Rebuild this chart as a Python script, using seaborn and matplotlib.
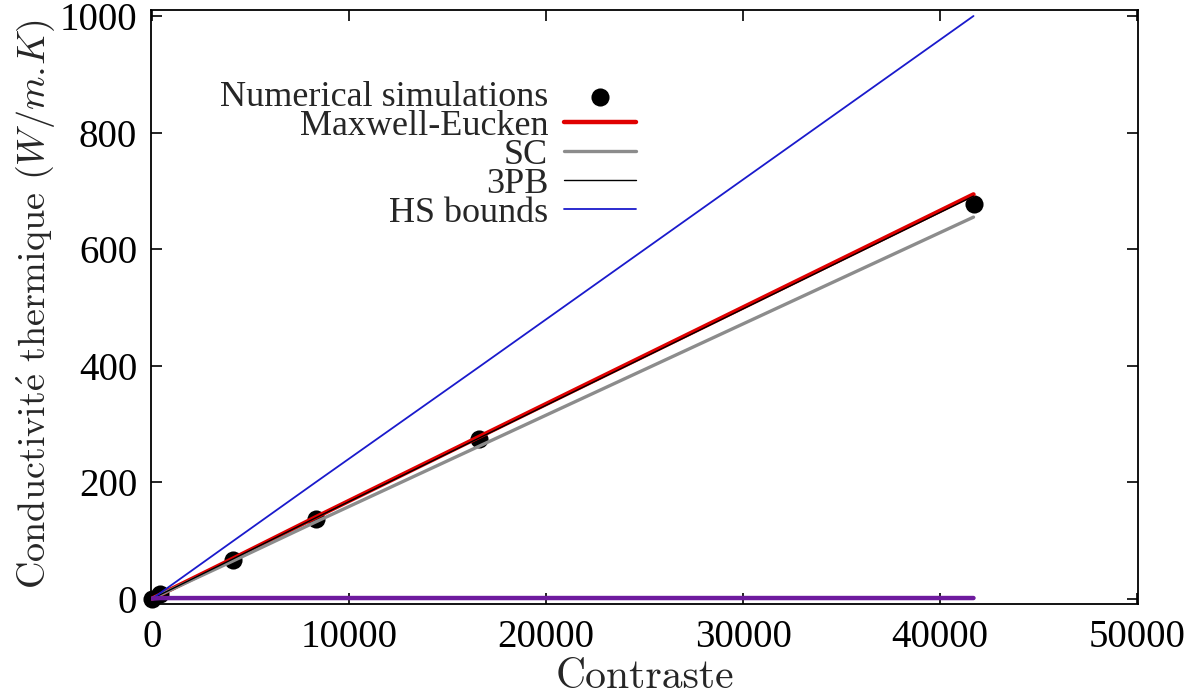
import numpy as np
import pandas as pd
import matplotlib
matplotlib.use("Agg")
import matplotlib.pyplot as plt
import seaborn as sns

# Contrast values (ratio of phase conductivities)
contrast = [1, 400, 4100, 8300, 16600, 41700]

# Effective thermal conductivity (W/m.K)
simulations = [0.5, 8, 67, 138, 274, 677]
maxwell_eucken = [0.6, 7.2, 69, 140, 278, 694]
sc_model = [0.6, 6.9, 65, 132, 262, 655]
three_pb = [0.6, 7.1, 68.5, 139, 276, 691]
hs_upper = [0.6, 9.7, 99, 200, 398, 1000]
hs_lower = [0.6, 1.5, 1.6, 1.6, 1.6, 1.6]

x_ticks = [0, 10000, 20000, 30000, 40000, 50000]
y_ticks = [0, 200, 400, 600, 800, 1000]

sns.set_style("ticks")
plt.rcParams["mathtext.fontset"] = "cm"
plt.rcParams["font.family"] = ["Liberation Serif", "DejaVu Serif"]

df = pd.DataFrame({
    "contrast": contrast,
    "sim": simulations,
    "me": maxwell_eucken,
    "sc": sc_model,
    "pb": three_pb,
    "hs_up": hs_upper,
    "hs_low": hs_lower,
})

fig = plt.figure(figsize=(11.93, 6.98), dpi=100)
ax = fig.add_axes([0.1266, 0.1347, 0.8273, 0.851])

sns.scatterplot(data=df, x="contrast", y="sim", ax=ax, color="black", s=170,
                edgecolor="black", linewidth=0, label="Numerical simulations",
                zorder=3, clip_on=False)
sns.lineplot(data=df, x="contrast", y="me", ax=ax, color="#e00000", linewidth=3.2,
             label="Maxwell-Eucken", zorder=4)
sns.lineplot(data=df, x="contrast", y="sc", ax=ax, color="#8c8c8c", linewidth=2.4,
             label="SC", zorder=4)
sns.lineplot(data=df, x="contrast", y="pb", ax=ax, color="black", linewidth=1.0,
             label="3PB", zorder=5)
sns.lineplot(data=df, x="contrast", y="hs_up", ax=ax, color="#1a1acc", linewidth=1.3,
             label="HS bounds", zorder=5)
sns.lineplot(data=df, x="contrast", y="hs_low", ax=ax, color="#6e1a9e", linewidth=3.2,
             zorder=5)

ax.set_xlim(-50, 50050)
ax.set_ylim(-8.6, 1010.3)
ax.set_xticks(x_ticks)
ax.set_yticks(y_ticks)
ax.set_xticklabels([str(v) for v in x_ticks])
ax.set_yticklabels([str(v) for v in y_ticks])
ax.tick_params(axis="both", direction="in", length=8, width=1.2, labelsize=28,
               top=True, right=True, colors="black")
ax.tick_params(axis="x", pad=11)
ax.tick_params(axis="y", pad=10)
for sp in ax.spines.values():
    sp.set_visible(True)
    sp.set_linewidth(1.3)
    sp.set_color("black")

ax.set_xlabel("Contraste", family=["cmr10", "DejaVu Serif"], size=30, labelpad=2)
ax.set_ylabel(r"Conductivit$\mathrm{\acute{e}}$ thermique ($W/m.\!K$)",
              family=["cmr10", "DejaVu Serif"], size=27.5, labelpad=2)
ax.yaxis.label.set_position((0, 0.505))

leg = ax.legend(loc="upper left", bbox_to_anchor=(0.055, 0.905), frameon=False,
                markerfirst=False, fontsize=26, handlelength=2.0,
                handletextpad=0.45, labelspacing=-0.12, borderaxespad=0)
for t in leg.get_texts():
    t.set_ha("right")
leg._legend_box.align = "right"

fig.savefig("out.png", dpi=100)
